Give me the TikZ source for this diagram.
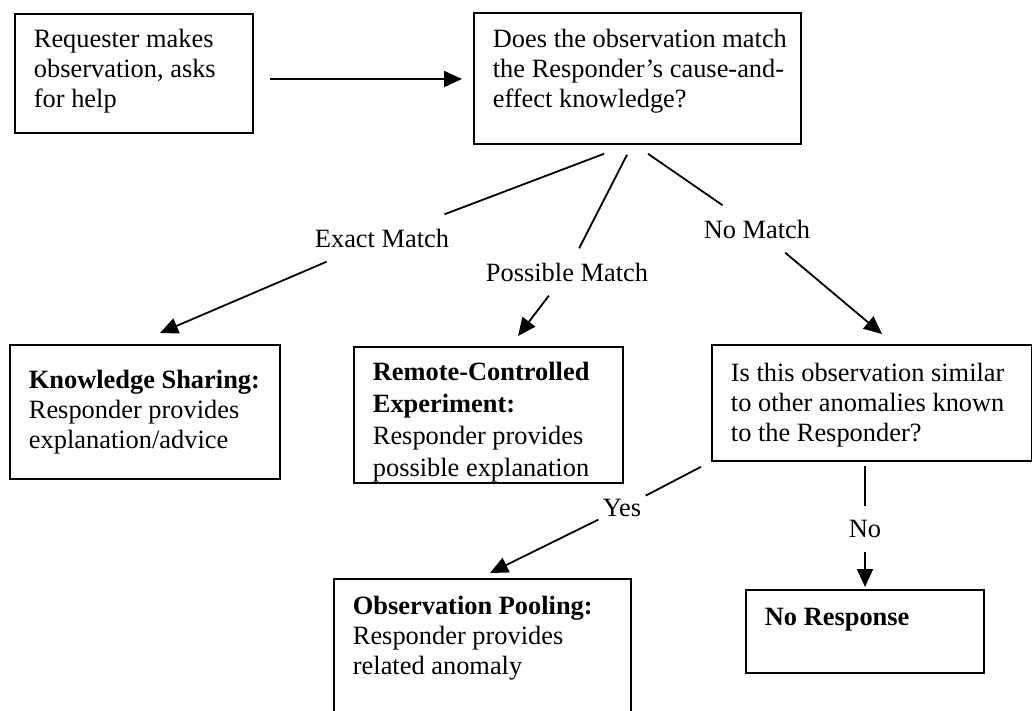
\documentclass[tikz,border=0pt]{standalone}
\usepackage{fontspec}
\setmainfont{Liberation Serif}
\usepackage{tikz}
\usetikzlibrary{arrows.meta}
\usetikzlibrary{positioning}
\tikzstyle{box}=[draw, rectangle, line width=0.9pt, anchor=north west, inner xsep=9.5pt, inner ysep=0pt]
\tikzstyle{lbl}=[inner xsep=2pt, inner ysep=7pt]
\tikzstyle{ln}=[line width=0.9pt]
\tikzstyle{arr}=[line width=0.9pt, -{Triangle[length=9pt,width=8pt]}]
\def\bxt#1#2#3#4{\parbox[c][#2][t]{#1}{\begin{tabular}[t]{@{}l@{}}\rule{0pt}{#3}#4\end{tabular}}}

\begin{document}
\begin{tikzpicture}[x=0.5pt, y=-0.5pt, font=\fontsize{13.2}{15}\selectfont]
    %\draw [help lines, step=50] (0,0) grid (1032,711);
    \useasboundingbox (0,0) rectangle (1032,711);

    \node [box] (req)     at (14,13)   {\bxt{100pt}{59.5pt}{17pt}{Requester makes\\ observation, asks\\ for help}};
    \node [box] (match)   at (473,12)  {\bxt{144.5pt}{65.5pt}{17.5pt}{Does the observation match\\ the Responder’s cause-and-\\ effect knowledge?}};
    \node [box] (share)   at (9,344)   {\bxt{116pt}{67pt}{22pt}{\textbf{Knowledge Sharing:}\\ Responder provides\\ explanation/advice}};
    \node [box] (remote)  at (353,346) {\bxt{115.5pt}{68pt}{17pt}{\textbf{Remote-Controlled}\\[1pt] \textbf{Experiment:}\\[1pt] Responder provides\\[1pt] possible explanation}};
    \node [box] (similar) at (711,344) {\bxt{141pt}{58pt}{18.5pt}{Is this observation similar\\ to other anomalies known\\ to the Responder?}};
    \node [box] (pool)    at (333,578) {\bxt{129.5pt}{91pt}{18pt}{\textbf{Observation Pooling:}\\ Responder provides\\ related anomaly}};
    \node [box] (none)    at (745,589) {\bxt{100pt}{41.5pt}{18pt}{\textbf{No Response}}};

    \node [lbl] (exact)    at (382,238) {Exact Match};
    \node [lbl] (possible) at (567,272) {Possible Match};
    \node [lbl] (nomatch)  at (757,229) {No Match};
    \node [lbl, inner ysep=3pt] (yes) at (622,508) {Yes};
    \node [lbl] (no)       at (865,529) {No};

    \path [arr] ([shift={(16,66)}]req.north east) edge ([shift={(-11,67)}]match.north west);
    \path [ln]  ([shift={(131,9)}]match.south west) edge (exact)
                ([shift={(154,10)}]match.south west) edge (possible)
                ([shift={(175,9)}]match.south west) edge (nomatch)
                ([shift={(-10,5)}]similar.south west) edge (yes)
                ([shift={(154,4)}]similar.south west) edge (no);
    \path [arr] (exact) edge ([shift={(151,-11)}]share.north west)
                (possible) edge ([shift={(165,-10)}]remote.north west)
                (nomatch) edge ([shift={(171,-10)}]similar.north west)
                (yes) edge ([shift={(157,-5)}]pool.north west)
                (no) edge ([shift={(120,-2)}]none.north west);

\end{tikzpicture}
\end{document}
